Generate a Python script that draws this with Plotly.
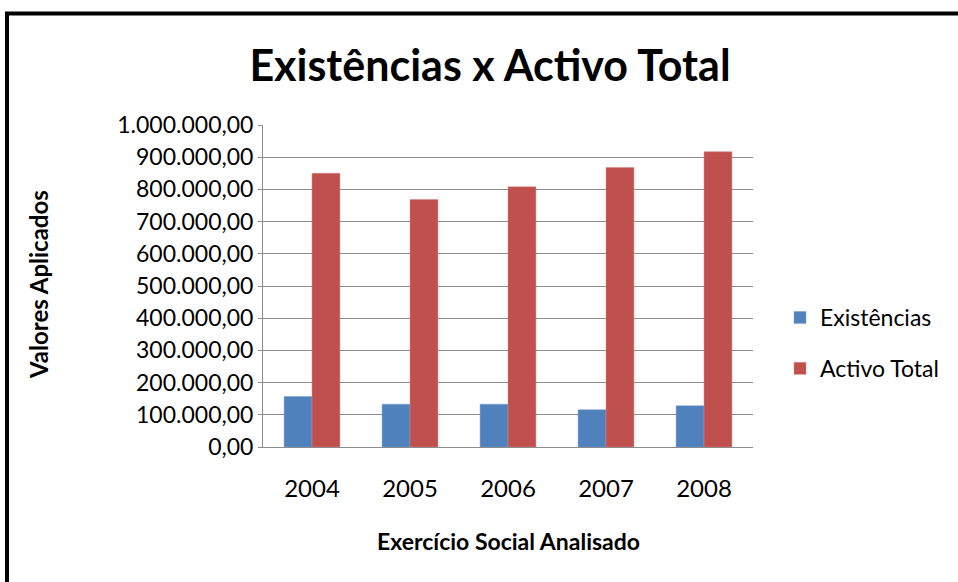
import plotly.graph_objects as go

years = ["2004", "2005", "2006", "2007", "2008"]
existencias = [157000, 133000, 133000, 116000, 128000]
activo_total = [850000, 769000, 808000, 868000, 917000]

W, H = 958, 582
L, R, T, B = 263, 753, 125, 447
pw, ph = R - L, B - T

def px(x):
    return (x - L) / pw

def py(y):
    return (B - y) / ph

FONT = "Lato"

fig = go.Figure()
fig.add_trace(go.Bar(name="Existências", x=years, y=existencias, legendgroup="a",
                     marker=dict(color="#4F81BD", line=dict(color="#7FA3D0", width=0.5))))
fig.add_trace(go.Bar(name="Activo Total", x=years, y=activo_total, legendgroup="b",
                     marker=dict(color="#C0504D", line=dict(color="#D98583", width=0.5))))

fig.update_layout(
    width=W, height=H,
    margin=dict(l=L, r=W - R, t=T, b=H - B, pad=0),
    paper_bgcolor="white", plot_bgcolor="white",
    separators=",.",
    barmode="group", bargap=0.43, bargroupgap=0,
    font=dict(family=FONT, color="black", size=23),
    title=dict(text="<b>Existências x Activo Total</b>", x=490 / W, xanchor="center",
               y=1 - 66 / H, yanchor="middle", yref="container",
               font=dict(family=FONT, size=43, color="black")),
    legend=dict(x=px(780), y=py(343), xanchor="left", yanchor="middle",
                font=dict(family=FONT, size=23, color="black"),
                tracegroupgap=18, itemwidth=30, bgcolor="rgba(0,0,0,0)"),
    showlegend=True,
)
fig.update_yaxes(range=[0, 1000000], dtick=100000, tickformat=",.2f",
                 showgrid=True, gridcolor="#8C8C8C", gridwidth=1,
                 showline=True, linecolor="#8C8C8C", linewidth=1,
                 ticks="outside", ticklen=4, tickcolor="#8C8C8C",
                 tickfont=dict(family=FONT, size=23), zeroline=False)
fig.update_xaxes(showline=True, linecolor="#8C8C8C", linewidth=1,
                 ticks="", tickfont=dict(family=FONT, size=24),
                 ticklabelstandoff=20)

fig.add_annotation(text="<b>Valores Aplicados</b>", xref="paper", yref="paper",
                   x=px(38), y=py(285), textangle=-90, showarrow=False,
                   font=dict(family=FONT, size=24, color="black"),
                   xanchor="center", yanchor="middle")
fig.add_annotation(text="<b>Exercício Social Analisado</b>", xref="paper", yref="paper",
                   x=px(508), y=py(541), showarrow=False,
                   font=dict(family=FONT, size=23, color="black"),
                   xanchor="center", yanchor="middle")

fig.add_shape(type="rect", xref="paper", yref="paper",
              x0=px(7), x1=px(1010), y0=py(13.5), y1=py(640),
              line=dict(color="black", width=4), fillcolor="rgba(0,0,0,0)", layer="above")

fig.write_html("out.html")
